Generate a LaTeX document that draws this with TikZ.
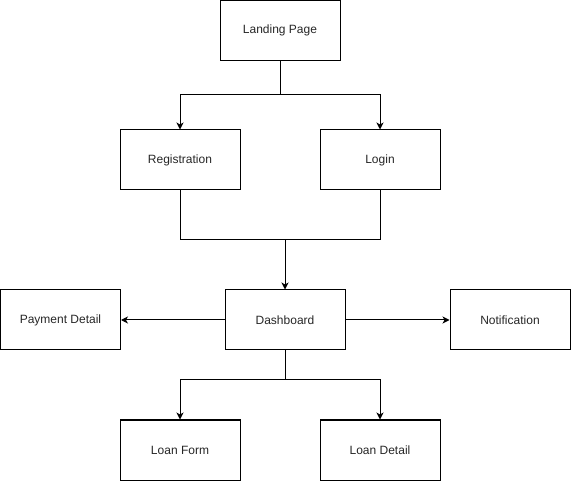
\documentclass[tikz,border=0pt]{standalone}
\usepackage{fontspec}
\setmainfont{Liberation Sans}
\usetikzlibrary{arrows.meta}
\begin{document}
\begin{tikzpicture}[x=1pt,y=-1pt,
  box/.style={draw, line width=1pt, minimum width=120pt, minimum height=60pt,
    inner sep=0pt, font=\fontsize{12}{14}\selectfont, text=black!85},
  link/.style={line width=1pt},
  arrowlink/.style={link, -{Stealth[length=7pt,width=7pt,inset=2pt]}}]
  \useasboundingbox (0,0) rectangle (571,481);

  % pages
  \node[box] (land)  at (280,30.5)  {Landing Page};
  \node[box] (reg)   at (180,160)   {Registration};
  \node[box] (login) at (380,160)   {Login};
  \node[box] (pay)   at (60.5,320)  {Payment Detail};
  \node[box] (dash)  at (285,320)   {Dashboard};
  \node[box] (notif) at (510,320)   {Notification};
  \node[box] (lform) at (180,450)   {Loan Form};
  \node[box] (ldet)  at (380,450)   {Loan Detail};

  % junction points of the elbow connectors
  \coordinate (j1) at (280,95);
  \coordinate (j2) at (285,240);
  \coordinate (j3) at (285,380);

  % landing page splits into registration and login
  \draw[link] (land) -- (j1);
  \draw[arrowlink] (j1) -| (reg);
  \draw[arrowlink] (j1) -| (login);

  % registration and login merge into the dashboard
  \draw[link] (reg) |- (j2);
  \draw[link] (login) |- (j2);
  \draw[arrowlink] (j2) -- (dash);

  % dashboard side pages
  \draw[arrowlink] (dash) -- (pay);
  \draw[arrowlink] (dash) -- (notif);

  % dashboard splits into loan pages
  \draw[link] (dash) -- (j3);
  \draw[arrowlink] (j3) -| (lform);
  \draw[arrowlink] (j3) -| (ldet);
\end{tikzpicture}
\end{document}
